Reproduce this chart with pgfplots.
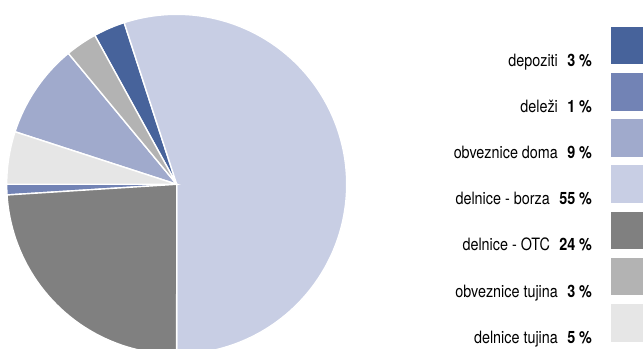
\documentclass[border=0pt]{standalone}
\usepackage{pgfplots}
\pgfplotsset{compat=1.18}
\usepackage{fontspec}
\setmainfont{TeX Gyre Heros}[FakeStretch=0.845]

\definecolor{cDep}{HTML}{47639B}
\definecolor{cDel}{HTML}{7283B5}
\definecolor{cObD}{HTML}{A0AACC}
\definecolor{cBor}{HTML}{C8CEE4}
\definecolor{cOTC}{HTML}{808080}
\definecolor{cObT}{HTML}{B3B3B3}
\definecolor{cTuj}{HTML}{E6E6E6}

% one pie slice: colour, start and share in percent, counted anticlockwise from six o'clock
\newcommand\slice[3]{%
  \addplot[fill=#1, draw=white, line width=1.4bp,
    domain={270+3.6*#2}:{270+3.6*(#2+#3)}, samples=120, variable=\t]
    ({cos(\t)},{sin(\t)}) -- (axis cs:0,0) -- cycle;}
\newcommand\entry[2]{#1\hspace{0.55em}\textbf{#2 \%}}

\begin{document}
\fontsize{17bp}{20bp}\selectfont
\begin{tikzpicture}
\path[use as bounding box, clip] (0,0) rectangle (643bp,349bp);
\begin{axis}[
  at={(176.7bp,164.7bp)}, anchor=origin,
  x=170bp, y=170bp, xmin=-1, xmax=1, ymin=-1, ymax=1,
  hide axis, clip=false,
  legend image code/.code={%
     \fill[#1, draw=none] (0,-2.3bp) rectangle (34bp,35.3bp);},
  legend cell align=right,
  legend plot pos=right,
  legend style={draw=none, fill=none, inner sep=0pt, outer sep=0pt,
     at={(1.8774,0.9635)}, anchor=north east, row sep=3.4bp, column sep=19bp,
     nodes={inner sep=0pt, text height=11.5bp, text depth=3.5bp,
            font=\fontsize{17bp}{20bp}\selectfont}},
]
% legend order; start, share (%)
\slice{cDep}{55}{3}
\slice{cDel}{75}{1}
\slice{cObD}{61}{9}
\slice{cBor}{0}{55}
\slice{cOTC}{76}{24}
\slice{cObT}{58}{3}
\slice{cTuj}{70}{5}
\legend{\entry{depoziti}{3}, \entry{deleži}{1}, \entry{obveznice doma}{9},
        \entry{delnice - borza}{55}, \entry{delnice - OTC}{24},
        \entry{obveznice tujina}{3}, \entry{delnice tujina}{5}}
\end{axis}
\end{tikzpicture}
\end{document}
